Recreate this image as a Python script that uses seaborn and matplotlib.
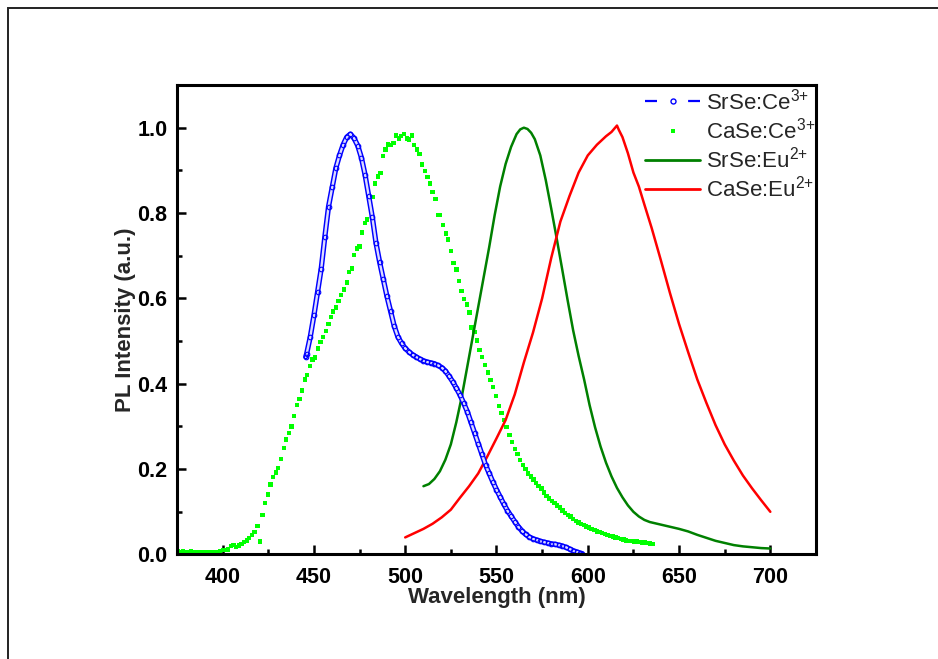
import matplotlib
matplotlib.use("Agg")
import matplotlib.pyplot as plt
import matplotlib.patheffects as pe
from matplotlib.lines import Line2D
from matplotlib.patches import Rectangle
from matplotlib.ticker import MultipleLocator
import pandas as pd
import seaborn as sns

# ---- SrSe:Ce3+ emission (blue, open circles) ----
srse_ce_nm = [445.5, 446, 448, 450, 452, 454, 456, 458, 460, 462, 464, 466, 468, 470,
              472, 474, 476, 478, 480, 482, 484, 486, 488, 490, 492, 494, 496, 498,
              500, 502, 504, 506, 508, 510, 512, 514, 516, 518, 520, 522, 524, 526,
              528, 530, 532, 534, 536, 538, 540, 542, 544, 546, 548, 550, 552, 554,
              556, 558, 560, 562, 564, 566, 568, 570, 572, 574, 576, 578, 580, 582,
              584, 586, 588, 590, 592, 594, 596, 597]
srse_ce_int = [0.463, 0.47, 0.51, 0.56, 0.615, 0.67, 0.745, 0.815, 0.86, 0.905, 0.935,
               0.96, 0.978, 0.985, 0.975, 0.958, 0.93, 0.89, 0.84, 0.79, 0.73, 0.685,
               0.645, 0.605, 0.57, 0.535, 0.51, 0.495, 0.483, 0.475, 0.468, 0.463,
               0.458, 0.454, 0.451, 0.449, 0.447, 0.443, 0.438, 0.43, 0.418, 0.405,
               0.39, 0.374, 0.355, 0.335, 0.31, 0.285, 0.26, 0.235, 0.21, 0.19, 0.17,
               0.152, 0.135, 0.118, 0.103, 0.09, 0.077, 0.065, 0.055, 0.047, 0.041,
               0.037, 0.034, 0.031, 0.029, 0.027, 0.025, 0.024, 0.022, 0.02, 0.017,
               0.013, 0.009, 0.006, 0.003, 0.002]

# ---- CaSe:Ce3+ emission (green squares) ----
case_ce_nm = [375.5, 377.0, 378.4, 379.9, 381.3, 382.8, 384.2, 385.7, 387.1, 388.6,
              390.0, 391.5, 392.9, 394.4, 395.8, 397.3, 398.7, 400.2, 401.6, 403.0,
              404.5, 405.9, 407.4, 408.8, 410.3, 411.7, 413.2, 414.6, 416.1, 417.5,
              419.0, 420.4, 421.9, 423.3, 424.8, 426.2, 427.7, 429.1, 430.4, 432.0,
              433.5, 434.8, 436.3, 437.7, 439.2, 440.7, 442.1, 443.4, 445.1, 446.3,
              447.8, 449.3, 450.5, 452.4, 453.7, 455.1, 456.6, 457.9, 459.3, 460.6,
              462.1, 463.4, 464.8, 466.5, 468.0, 469.2, 470.7, 472.1, 473.5, 474.9,
              476.4, 478.0, 479.0, 480.8, 482.0, 483.5, 485.0, 486.4, 487.9, 489.2,
              490.5, 492.1, 493.6, 494.9, 496.7, 497.8, 499.3, 500.9, 502.2, 503.7,
              504.9, 506.4, 507.9, 509.3, 510.8, 512.3, 513.7, 515.0, 516.5, 518.0,
              519.2, 520.7, 522.2, 523.6, 525.0, 526.5, 528.0, 529.5, 530.8, 532.2,
              533.7, 535.2, 536.4, 537.9, 539.4, 540.7, 542.1, 543.6, 545.2, 546.7,
              548.2, 549.8, 551.3, 552.7, 554.1, 555.5, 557.1, 558.6, 560.0, 561.5,
              563.0, 564.4, 565.9, 567.3, 568.8, 570.2, 571.7, 573.1, 574.6, 576.0,
              577.5, 578.9, 580.4, 581.8, 583.3, 584.7, 586.2, 587.6, 589.1, 590.5,
              592.0, 593.4, 594.9, 596.3, 597.8, 599.2, 600.7, 602.1, 603.6, 605.0,
              606.5, 607.9, 609.4, 610.8, 612.3, 613.7, 615.2, 616.6, 618.1, 619.5,
              621.0, 622.4, 623.9, 625.3, 626.8, 628.2, 629.7, 631.1, 632.6, 634.0,
              635.5]
case_ce_int = [0.007, 0.006, 0.007, 0.006, 0.006, 0.007, 0.006, 0.006, 0.005, 0.006,
               0.005, 0.005, 0.006, 0.005, 0.006, 0.006, 0.007, 0.010, 0.011, 0.012,
               0.020, 0.022, 0.018, 0.021, 0.025, 0.029, 0.033, 0.038, 0.045, 0.053,
               0.067, 0.030, 0.093, 0.120, 0.141, 0.164, 0.181, 0.192, 0.203, 0.224,
               0.249, 0.269, 0.285, 0.300, 0.325, 0.350, 0.365, 0.384, 0.410, 0.421,
               0.441, 0.457, 0.462, 0.483, 0.498, 0.509, 0.524, 0.540, 0.557, 0.569,
               0.579, 0.594, 0.608, 0.621, 0.637, 0.662, 0.670, 0.701, 0.717, 0.722,
               0.754, 0.777, 0.785, 0.816, 0.838, 0.869, 0.886, 0.894, 0.933, 0.949,
               0.961, 0.959, 0.964, 0.982, 0.975, 0.981, 0.985, 0.975, 0.972, 0.982,
               0.959, 0.949, 0.938, 0.914, 0.899, 0.885, 0.869, 0.850, 0.833, 0.795,
               0.795, 0.772, 0.752, 0.738, 0.711, 0.683, 0.668, 0.641, 0.617, 0.598,
               0.586, 0.567, 0.532, 0.522, 0.501, 0.479, 0.463, 0.444, 0.426, 0.409,
               0.392, 0.371, 0.348, 0.332, 0.315, 0.299, 0.280, 0.264, 0.247, 0.235,
               0.222, 0.210, 0.200, 0.190, 0.183, 0.176, 0.167, 0.160, 0.155, 0.145,
               0.137, 0.131, 0.126, 0.121, 0.115, 0.110, 0.103, 0.097, 0.093, 0.089,
               0.083, 0.079, 0.075, 0.072, 0.069, 0.066, 0.063, 0.060, 0.057, 0.054,
               0.052, 0.050, 0.048, 0.046, 0.044, 0.042, 0.040, 0.038, 0.036, 0.035,
               0.033, 0.032, 0.031, 0.030, 0.030, 0.029, 0.028, 0.028, 0.027, 0.026,
               0.025]

# ---- SrSe:Eu2+ emission (dark green line) ----
srse_eu_nm = [510, 513, 516, 519, 522, 525, 528, 531, 534, 537, 540, 543, 546, 549,
              552, 555, 558, 561, 563, 565, 567, 569, 571, 574, 577, 580, 583, 586,
              589, 592, 595, 598, 601, 604, 607, 610, 613, 616, 619, 622, 625, 628,
              631, 634, 637, 640, 645, 650, 655, 660, 665, 670, 675, 680, 685, 690,
              695, 700]
srse_eu_int = [0.16, 0.165, 0.177, 0.195, 0.222, 0.258, 0.31, 0.37, 0.44, 0.51, 0.58,
               0.65, 0.72, 0.795, 0.862, 0.915, 0.955, 0.985, 0.996, 1.0, 0.997, 0.988,
               0.973, 0.935, 0.877, 0.81, 0.74, 0.668, 0.595, 0.525, 0.465, 0.41,
               0.35, 0.298, 0.253, 0.215, 0.183, 0.156, 0.134, 0.115, 0.10, 0.089,
               0.081, 0.076, 0.073, 0.07, 0.065, 0.06, 0.054, 0.046, 0.039, 0.032,
               0.027, 0.022, 0.019, 0.017, 0.015, 0.014]

# ---- CaSe:Eu2+ emission (red line) ----
case_eu_nm = [500, 505, 510, 515, 520, 525, 530, 535, 540, 545, 550, 555, 560, 565,
              570, 575, 580, 585, 590, 595, 600, 605, 610, 613, 614, 616, 617, 619,
              622, 625, 628, 631, 635, 640, 645, 650, 655, 660, 665, 670, 675, 680,
              685, 690, 695, 700]
case_eu_int = [0.04, 0.05, 0.06, 0.072, 0.087, 0.105, 0.133, 0.16, 0.19, 0.23, 0.272,
               0.315, 0.375, 0.45, 0.52, 0.60, 0.695, 0.78, 0.84, 0.895, 0.935, 0.96,
               0.98, 0.99, 0.995, 1.005, 0.995, 0.978, 0.94, 0.895, 0.862, 0.82, 0.765,
               0.69, 0.613, 0.54, 0.474, 0.41, 0.355, 0.303, 0.258, 0.22, 0.185, 0.155,
               0.127, 0.10]

series_labels = ["SrSe:Ce$^{3{+}}$", "CaSe:Ce$^{3{+}}$",
                 "SrSe:Eu$^{2{+}}$", "CaSe:Eu$^{2{+}}$"]
x_ticks = [400, 450, 500, 550, 600, 650, 700]
y_ticks = [0.0, 0.2, 0.4, 0.6, 0.8, 1.0]

BLUE, LIME, DKGREEN, RED = "#0000ff", "#00ff00", "#008000", "#ff0000"

sns.set_style("ticks")
plt.rcParams["font.family"] = ["Liberation Sans", "DejaVu Sans"]
plt.rcParams["mathtext.fontset"] = "custom"
plt.rcParams["mathtext.rm"] = "Liberation Sans"
plt.rcParams["mathtext.it"] = "Liberation Sans:italic"
plt.rcParams["mathtext.bf"] = "Liberation Sans:bold"

fig = plt.figure(figsize=(9.38, 6.59), dpi=100)
ax = fig.add_axes([0.1887, 0.1586, 0.6812, 0.7124])

df_srse_ce = pd.DataFrame({"nm": srse_ce_nm, "I": srse_ce_int})
df_case_ce = pd.DataFrame({"nm": case_ce_nm, "I": case_ce_int})
df_srse_eu = pd.DataFrame({"nm": srse_eu_nm, "I": srse_eu_int})
df_case_eu = pd.DataFrame({"nm": case_eu_nm, "I": case_eu_int})

sns.lineplot(data=df_srse_eu, x="nm", y="I", ax=ax, color=DKGREEN, lw=1.8,
             sort=False, estimator=None)
sns.lineplot(data=df_case_eu, x="nm", y="I", ax=ax, color=RED, lw=1.8,
             sort=False, estimator=None)
sns.scatterplot(data=df_case_ce, x="nm", y="I", ax=ax, marker="s", s=10,
                color=LIME, edgecolor="none", linewidth=0)
# dense chain of open circles: a blue tube with a pale core plus circle markers
sns.lineplot(data=df_srse_ce, x="nm", y="I", ax=ax, color=BLUE, lw=1.0,
             sort=False, estimator=None,
             path_effects=[pe.Stroke(linewidth=3.8, foreground=BLUE),
                           pe.Stroke(linewidth=1.7, foreground="#dcdcff")])
sns.lineplot(data=df_srse_ce, x="nm", y="I", ax=ax, color=BLUE, lw=0,
             sort=False, estimator=None, marker="o", markersize=3.3,
             markerfacecolor="none", markeredgecolor=BLUE, markeredgewidth=0.8)

ax.set_xlim(375, 725)
ax.set_ylim(0, 1.1)
ax.set_xticks(x_ticks)
ax.set_yticks(y_ticks)
ax.set_xticklabels([str(v) for v in x_ticks])
ax.set_yticklabels([f"{v:.1f}" for v in y_ticks])
ax.xaxis.set_minor_locator(MultipleLocator(25))
ax.yaxis.set_minor_locator(MultipleLocator(0.1))
ax.tick_params(which="both", direction="in", width=1.8, colors="black",
               top=False, right=False)
ax.tick_params(which="major", length=6.5)
ax.tick_params(which="minor", length=3.5)
ax.tick_params(axis="x", which="major", pad=9)
ax.tick_params(axis="y", which="major", pad=7)
for lab in ax.get_xticklabels() + ax.get_yticklabels():
    lab.set_fontweight("bold")
    lab.set_fontsize(15.5)
for sp in ax.spines.values():
    sp.set_visible(True)
    sp.set_linewidth(2.2)
    sp.set_color("black")

ax.set_xlabel("Wavelength (nm)", fontsize=16, fontweight="bold", labelpad=-1)
ax.set_ylabel("PL Intensity (a.u.)", fontsize=16, fontweight="bold", labelpad=1)

handles = [
    Line2D([], [], color=BLUE, lw=1.6, linestyle=(0, (5.4, 14)), marker="o",
           markersize=3.6, markerfacecolor="none", markeredgecolor=BLUE,
           markeredgewidth=1.0),
    Line2D([], [], color=LIME, lw=0, marker="s", markersize=3.4,
           markeredgewidth=0),
    Line2D([], [], color=DKGREEN, lw=2.0),
    Line2D([], [], color=RED, lw=2.0),
]
ax.legend(handles, series_labels, loc="upper left", bbox_to_anchor=(0.732, 0.993),
          frameon=False, fontsize=16, handlelength=2.5, handletextpad=0.27,
          borderpad=0.0, borderaxespad=0.0, labelspacing=0.15, numpoints=1)

# page border around the figure
fig.patches.append(Rectangle((8 / 938, -0.2), 1.5, 1 - 8 / 659 + 0.2,
                             transform=fig.transFigure, fill=False,
                             edgecolor="#222222", lw=1.4))

fig.savefig("out.png", dpi=100, facecolor="white")
